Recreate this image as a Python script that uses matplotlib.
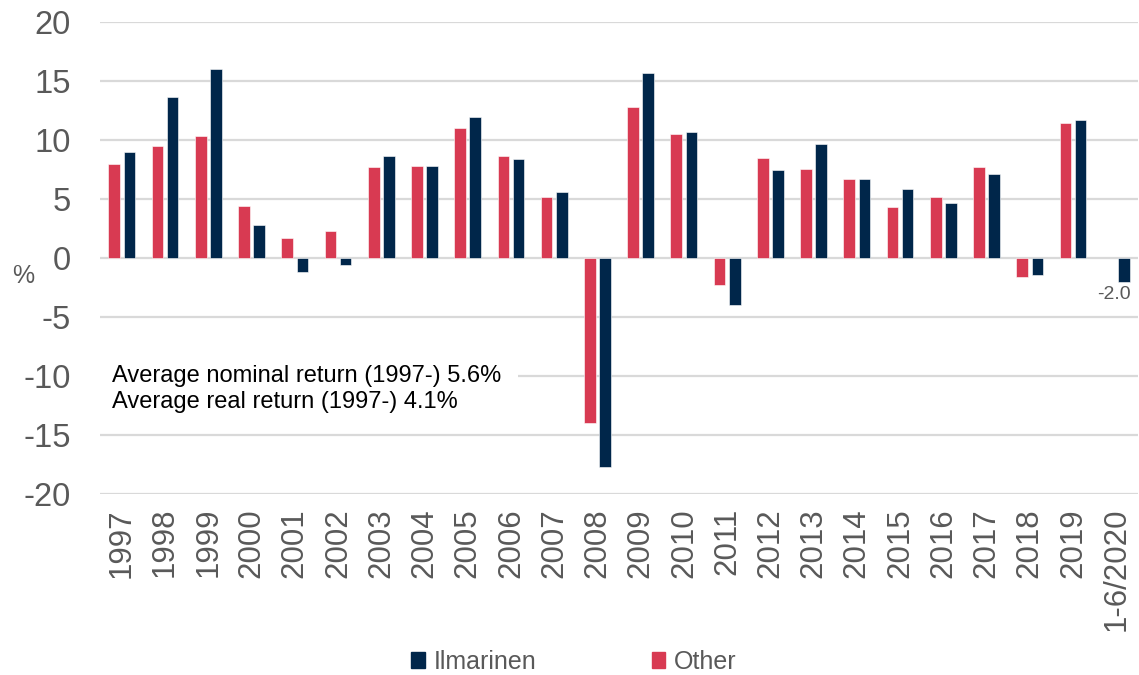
import numpy as np
import matplotlib
matplotlib.use("Agg")
import matplotlib.pyplot as plt
from matplotlib.patches import Patch

plt.rcParams['font.family'] = ['Liberation Sans', 'DejaVu Sans']
plt.rcParams['axes.unicode_minus'] = False

years = ["1997", "1998", "1999", "2000", "2001", "2002", "2003", "2004",
         "2005", "2006", "2007", "2008", "2009", "2010", "2011", "2012",
         "2013", "2014", "2015", "2016", "2017", "2018", "2019", "1-6/2020"]
other = [8.0, 9.5, 10.4, 4.4, 1.7, 2.3, 7.7, 7.8, 11.0, 8.7, 5.2, -14.0,
         12.8, 10.5, -2.3, 8.5, 7.6, 6.7, 4.3, 5.2, 7.7, -1.6, 11.5, np.nan]
ilmarinen = [9.0, 13.7, 16.0, 2.8, -1.2, -0.6, 8.7, 7.8, 12.0, 8.4, 5.6, -17.7,
             15.7, 10.7, -4.0, 7.5, 9.7, 6.7, 5.9, 4.7, 7.1, -1.4, 11.7, -2.0]
notes = ["Average nominal return (1997-) 5.6%", "Average real return (1997-) 4.1%"]

red = "#d83a52"
navy = "#00264a"
grey = "#595959"

fig = plt.figure(figsize=(11.39, 6.75), dpi=100)
ax = fig.add_axes([0.088, 0.268, 0.911, 0.699])

x = np.arange(len(years))
w = 0.27
ax.bar(x - 0.175, other, w, color=red, edgecolor="white", linewidth=0.4, zorder=3)
ax.bar(x + 0.175, ilmarinen, w, color=navy, edgecolor="white", linewidth=0.4, zorder=3)

ax.set_xlim(-0.5, len(years) - 0.5)
ax.set_ylim(-20, 20)
ax.set_yticks(np.arange(-20, 21, 5))
ax.yaxis.grid(True, color="#d9d9d9", linewidth=1.6, zorder=0)
ax.set_axisbelow(True)
for s in ax.spines.values():
    s.set_visible(False)
ax.tick_params(axis="both", length=0, colors=grey)
ax.tick_params(axis="y", labelsize=23.5, pad=21)
ax.set_xticks(x)
ax.set_xticklabels(years, rotation=90, fontsize=22.5)
ax.tick_params(axis="x", pad=10)

fig.text(0.011, 0.591, "%", fontsize=18, color=grey, ha="left", va="center")

# last value label
ax.annotate("{:.1f}".format(ilmarinen[-1]), (x[-1] + 0.175 + w / 2, ilmarinen[-1]),
            xytext=(1, -3), textcoords="offset points", ha="right", va="top",
            fontsize=14, color=grey)

ax.text(-0.22, -11.1, notes[0] + "\n" + notes[1], fontsize=17, color="black",
        ha="left", va="center", linespacing=1.2, zorder=4,
        bbox=dict(facecolor="white", edgecolor="none", pad=12))

handles = [Patch(color=navy, label="Ilmarinen"), Patch(color=red, label="Other")]
fig.legend(handles=handles, loc="center", bbox_to_anchor=(0.504, 0.019), ncol=2,
           frameon=False, fontsize=18, labelcolor=grey, handlelength=0.55,
           handleheight=0.6, handletextpad=0.35, columnspacing=4.6)

fig.savefig("out.png", dpi=100)
